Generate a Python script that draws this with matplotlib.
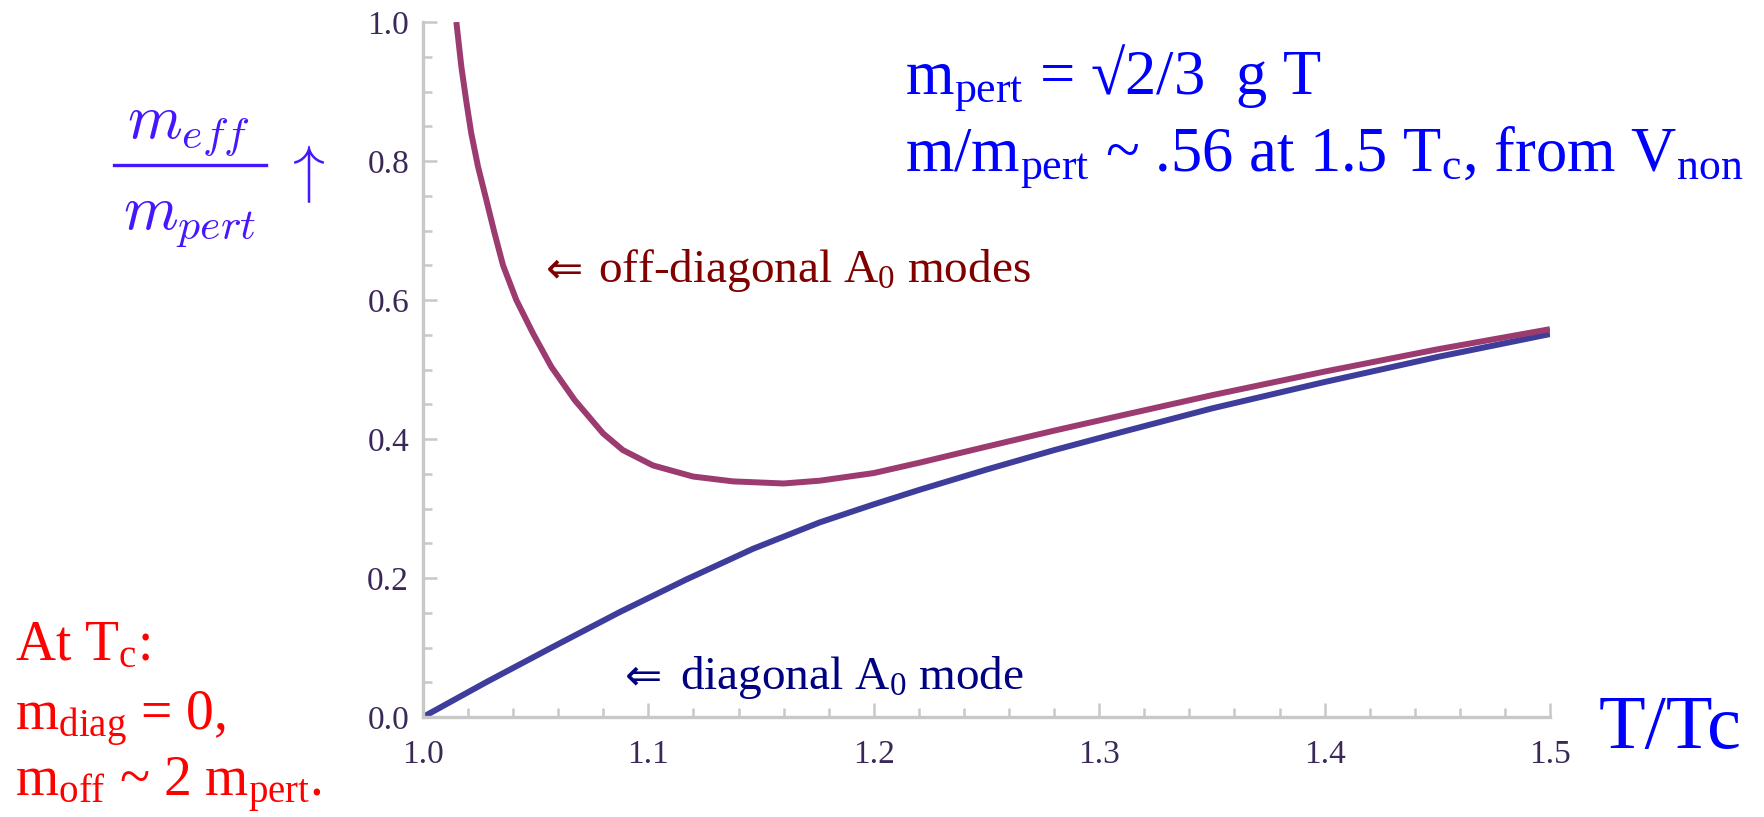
import matplotlib
matplotlib.use("Agg")
import matplotlib.pyplot as plt
from matplotlib.lines import Line2D
from matplotlib.ticker import MultipleLocator

# effective masses of the A0 modes vs T/Tc
t_off = [1.0148, 1.0170, 1.0192, 1.0214, 1.0244, 1.0281, 1.0316, 1.0355, 1.0414, 1.0488,
         1.0569, 1.0673, 1.0799, 1.0887, 1.102, 1.1198, 1.1376, 1.16, 1.176, 1.20,
         1.2204, 1.25, 1.28, 1.31, 1.35, 1.40, 1.45, 1.50]
m_off = [1.0, 0.936, 0.886, 0.840, 0.792, 0.744, 0.698, 0.650, 0.600, 0.552,
         0.504, 0.456, 0.408, 0.384, 0.362, 0.346, 0.339, 0.336, 0.340, 0.351,
         0.366, 0.389, 0.412, 0.434, 0.463, 0.497, 0.529, 0.558]

t_diag = [1.0, 1.028, 1.0577, 1.0873, 1.1169, 1.1464, 1.176, 1.20, 1.2204, 1.25, 1.28,
          1.31, 1.35, 1.40, 1.45, 1.50]
m_diag = [0.0, 0.050, 0.101, 0.151, 0.198, 0.242, 0.280, 0.306, 0.327, 0.356, 0.384,
          0.410, 0.444, 0.482, 0.518, 0.551]

x_ticks = [1.0, 1.1, 1.2, 1.3, 1.4, 1.5]
y_ticks = [0.0, 0.2, 0.4, 0.6, 0.8, 1.0]

W, H = 1765, 817
SERIF = ["Liberation Serif", "DejaVu Serif"]

plt.rcParams["mathtext.fontset"] = "custom"
plt.rcParams["mathtext.rm"] = "Liberation Serif"
plt.rcParams["mathtext.it"] = "Liberation Serif:italic"

fig = plt.figure(figsize=(W / 100, H / 100), dpi=100)
ax = fig.add_axes([423 / W, 1 - 717 / H, (1550 - 423) / W, (717 - 22) / H])

ax.plot(t_diag, m_diag, color="#3f3d9b", lw=4.3, solid_capstyle="butt")
ax.plot(t_off, m_off, color="#9c3b70", lw=4.3, solid_capstyle="butt")

ax.set_xlim(1.0, 1.5)
ax.set_ylim(0.0, 1.0)
for s in ("top", "right"):
    ax.spines[s].set_visible(False)
for s in ("left", "bottom"):
    ax.spines[s].set_color("#c8c8c8")
    ax.spines[s].set_linewidth(2.4)

ax.set_xticks(x_ticks)
ax.set_yticks(y_ticks)
ax.set_xticklabels([f"{v:.1f}" for v in x_ticks])
ax.set_yticklabels([f"{v:.1f}" for v in y_ticks])
ax.xaxis.set_minor_locator(MultipleLocator(0.02))
ax.yaxis.set_minor_locator(MultipleLocator(0.05))
ax.tick_params(which="both", direction="in", color="#c8c8c8", width=1.8,
               labelsize=24, labelcolor="#3a2858")
ax.tick_params(which="major", length=10)
ax.tick_params(which="minor", length=6.5)
ax.tick_params(axis="x", pad=16)
ax.tick_params(axis="y", pad=10)
for lab in ax.get_xticklabels() + ax.get_yticklabels():
    lab.set_family(SERIF)


def put(x, y, s, **kw):
    kw.setdefault("family", SERIF)
    fig.text(x / W, 1 - y / H, s, va="baseline", **kw)


# y axis label: m_eff / m_pert with an up arrow
BLUE_LBL = "#4616ff"
put(188, 137, r"$m_{eff}$", color=BLUE_LBL, fontsize=45, ha="center", math_fontfamily="cm")
put(190, 229, r"$m_{pert}$", color=BLUE_LBL, fontsize=45, ha="center", math_fontfamily="cm")
fig.add_artist(Line2D([114 / W, 266 / W], [1 - 165 / H, 1 - 165 / H],
                      color=BLUE_LBL, lw=2.4))
put(303, 190, r"$\uparrow$", color=BLUE_LBL, fontsize=46, ha="center", math_fontfamily="cm")

put(905, 93, r"m$_{\mathrm{pert}}$ = √2/3  g T", color="#0000ff", fontsize=45)
put(905, 170, r"m/m$_{\mathrm{pert}}$ ~ .56 at 1.5 T$_{\mathrm{c}}$, from V$_{\mathrm{non}}$",
    color="#0000ff", fontsize=45)

put(546, 282, "⇐", color="#800000", fontsize=32, family="DejaVu Sans")
put(598, 282, r"off-diagonal A$_{\mathrm{0}}$ modes", color="#800000", fontsize=34)
put(625, 689, "⇐", color="#000080", fontsize=32, family="DejaVu Sans")
put(680, 689, r"diagonal A$_{\mathrm{0}}$ mode", color="#000080", fontsize=34)

put(1742, 748, "T/Tc", color="#0000ff", fontsize=55, ha="right")

put(15, 660, r"At T$_{\mathrm{c}}$:", color="#ff0000", fontsize=40)
put(15, 730, r"m$_{\mathrm{diag}}$ = 0,", color="#ff0000", fontsize=40)
put(15, 796, r"m$_{\mathrm{off}}$ ~ 2 m$_{\mathrm{pert}}$.", color="#ff0000", fontsize=40)

fig.savefig("out.png", dpi=100, facecolor="white")
